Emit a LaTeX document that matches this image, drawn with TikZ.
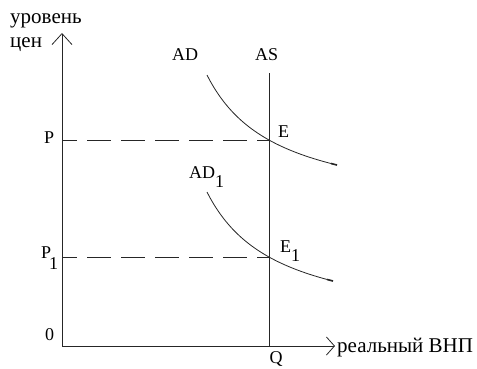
\documentclass[tikz,border=0pt]{standalone}
\usepackage{fontspec}
\setmainfont{Liberation Serif}
\usetikzlibrary{arrows.meta}
\begin{document}
\begin{tikzpicture}[x=1pt,y=-1pt,
  ln/.style={line width=0.8pt, draw=black!85},
  ybarb/.style={-{Straight Barb[length=11pt,width=20pt,line width=0.8pt]}},
  xbarb/.style={-{Straight Barb[length=8pt,width=18pt,line width=0.8pt]}},
  dsh/.style={ln, dash pattern=on 24pt off 10pt, dash phase=9pt},
  lbl/.style={font=\fontsize{18}{18}\selectfont, inner sep=0pt, anchor=base west},
  cyr/.style={font=\fontsize{21}{21}\selectfont, inner sep=0pt, anchor=base west}]
\useasboundingbox (0,0) rectangle (477,368);
% points
\coordinate (O) at (62,346);
\coordinate (Ytop) at (62,33);
\coordinate (Xend) at (335,346);
\coordinate (AStop) at (269,73);
\coordinate (ASbot) at (269,346);
\coordinate (Eq) at (269,140);
\coordinate (E1q) at (269,257);
\coordinate (Pp) at (62,140);
\coordinate (P1p) at (62,257);
% axes
\draw[ln, ybarb] (O) -- (Ytop);
\draw[ln, xbarb] (O) -- (Xend);
% AS
\draw[ln] (ASbot) -- (AStop);
% dashed levels
\draw[dsh] (Pp) -- (Eq);
\draw[dsh] (P1p) -- (E1q);
% AD curves
\draw[ln] plot[domain=207:337, samples=60, smooth] (\x, {213.6-9729.8/(\x-136.8)});
\draw[line width=1.6pt, black!85] plot[domain=331:337, samples=4] (\x, {213.6-9729.8/(\x-136.8)});
\draw[ln] plot[domain=207:333, samples=60, smooth] (\x, {330.6-9729.8/(\x-136.8)});
\draw[line width=1.6pt, black!85] plot[domain=327:333, samples=4] (\x, {330.6-9729.8/(\x-136.8)});
% labels
\node[cyr] (ylab1) at (10,23) {уровень};
\node[cyr] (ylab2) at (10,47) {цен};
\node[cyr] (xlab) at (337,352) {реальный ВНП};
\node[lbl] (P) at (44,143) {P};
\node[lbl] (P1) at (41,258) {P\kern-2pt\raisebox{-11pt}{1}};
\node[lbl] (zero) at (45,340) {0};
\node[lbl] (AD) at (172,60) {AD};
\node[lbl] (AS) at (255,60) {AS};
\node[lbl] (E) at (278,137) {E};
\node[lbl] (AD1) at (189,178) {AD\raisebox{-9pt}{1}};
\node[lbl] (E1) at (280,252) {E\raisebox{-9pt}{1}};
\node[lbl, anchor=base] (Q) at (276,363) {Q};
\end{tikzpicture}
\end{document}
